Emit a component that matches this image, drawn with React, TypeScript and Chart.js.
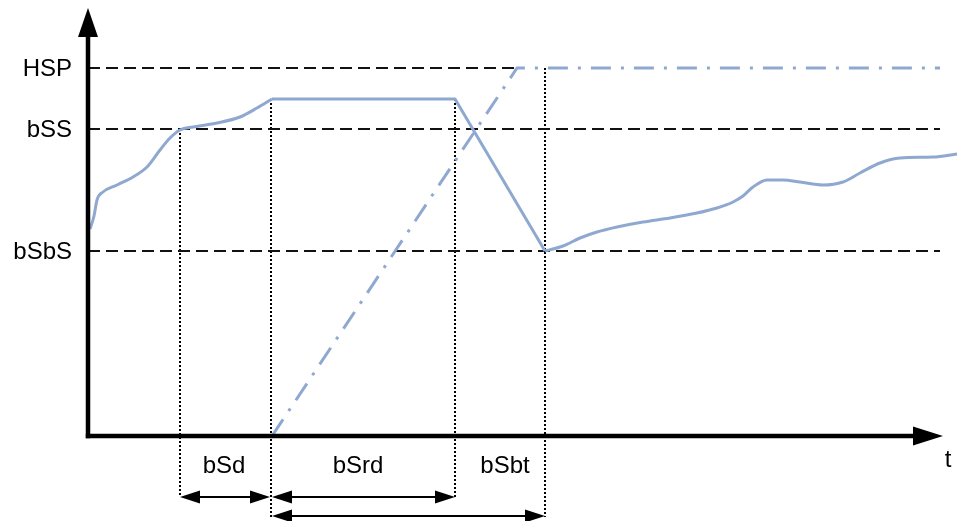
import React, { useEffect, useRef } from 'react';
import Chart from 'chart.js/auto';

// Threshold levels (y-axis labels)
const levelNames = ['HSP', 'bSS', 'bSbS'];
const levelValues = [368, 307, 185];
const levelEnds = [429, 852, 852];

// Main signal: rising part (smooth)
const riseT = [2, 6, 9, 15, 29, 45, 59, 72, 82, 92, 105, 129, 152, 169, 184];
const riseV = [207, 220, 236, 244, 251, 259, 269, 286, 298, 306, 309, 313, 319, 328, 337];
// Hold + ramp down (straight)
const holdT = [184, 367, 457];
const holdV = [337, 337, 185];
// Recovery (smooth)
const recT = [457, 475, 492, 509, 529, 555, 582, 609, 629, 645, 655, 665, 679, 695, 712, 735, 755, 772, 792, 812, 845, 869];
const recV = [185, 190, 198, 204, 209, 214, 218, 223, 228, 234, 240, 249, 256, 256, 254, 251, 254, 263, 273, 278, 279, 282];
// Setpoint ramp (dash-dot)
const rampT = [184, 429, 852];
const rampV = [0, 368, 368];

// Dotted vertical markers
const markT = [92, 183, 367, 457];
const markTop = [307, 337, 337, 368];
const markBottom = [-61, -81, -61, -81];

// Duration spans
const spanNames = ['bSd', 'bSrd', 'bSbt'];
const spanLabelT = [136, 270, 417];
const spanLabelV = [-30, -30, -30];
const arrowFrom = [92, 184, 184];
const arrowTo = [182, 367, 457];
const arrowLevel = [-61, -61, -80];

// Axes
const axisTimeEnd = 855;
const axisValueEnd = 428;
const timeLabel = 't';
const timeLabelPos = [860, -24];

const BLUE = 'rgb(143,168,208)';
const FONT = '24px "Liberation Sans", Arial, sans-serif';

const pts = (t: number[], v: number[]) => t.map((x, i) => ({ x, y: v[i] }));

const overlay = {
  id: 'overlay',
  afterDatasetsDraw(chart: any) {
    const { ctx, scales } = chart;
    const xs = scales.x, ys = scales.y;
    const px = (t: number) => xs.getPixelForValue(t);
    const py = (v: number) => ys.getPixelForValue(v);
    ctx.save();
    ctx.fillStyle = '#000';
    ctx.strokeStyle = '#000';
    // axes
    const ox = px(0), oy = py(0);
    const yTip = py(axisValueEnd), xTip = px(axisTimeEnd);
    ctx.lineWidth = 4.5;
    ctx.setLineDash([]);
    ctx.beginPath();
    ctx.moveTo(ox, oy + 2.2);
    ctx.lineTo(ox, yTip + 26);
    ctx.stroke();
    ctx.beginPath();
    ctx.moveTo(ox - 2.2, oy);
    ctx.lineTo(xTip - 26, oy);
    ctx.stroke();
    ctx.beginPath();
    ctx.moveTo(ox, yTip);
    ctx.lineTo(ox - 10, yTip + 29);
    ctx.lineTo(ox + 10, yTip + 29);
    ctx.closePath();
    ctx.fill();
    ctx.beginPath();
    ctx.moveTo(xTip, oy);
    ctx.lineTo(xTip - 30, oy - 9.5);
    ctx.lineTo(xTip - 30, oy + 9.5);
    ctx.closePath();
    ctx.fill();

    // level labels
    ctx.font = FONT;
    ctx.textAlign = 'right';
    ctx.textBaseline = 'middle';
    levelNames.forEach((n, i) => ctx.fillText(n, ox - 16, py(levelValues[i]) + 1));

    // span labels
    ctx.textAlign = 'center';
    spanNames.forEach((n, i) => ctx.fillText(n, px(spanLabelT[i]), py(spanLabelV[i])));
    ctx.fillText(timeLabel, px(timeLabelPos[0]), py(timeLabelPos[1]));

    // double arrows
    ctx.lineWidth = 2;
    arrowFrom.forEach((f, i) => {
      const a = px(f), b = px(arrowTo[i]), yy = py(arrowLevel[i]);
      const L = 20, H = 6.5;
      ctx.beginPath();
      ctx.moveTo(a + L - 1, yy);
      ctx.lineTo(b - L + 1, yy);
      ctx.stroke();
      ctx.beginPath();
      ctx.moveTo(a, yy);
      ctx.lineTo(a + L, yy - H);
      ctx.lineTo(a + L, yy + H);
      ctx.closePath();
      ctx.fill();
      ctx.beginPath();
      ctx.moveTo(b, yy);
      ctx.lineTo(b - L, yy - H);
      ctx.lineTo(b - L, yy + H);
      ctx.closePath();
      ctx.fill();
    });
    ctx.restore();
  },
};

export default function App() {
  const ref = useRef<HTMLCanvasElement | null>(null);
  useEffect(() => {
    if (!ref.current) return;
    const datasets: any[] = [
      { data: pts(riseT, riseV), borderColor: BLUE, borderWidth: 3, cubicInterpolationMode: 'monotone', pointRadius: 0 },
      { data: pts(holdT, holdV), borderColor: BLUE, borderWidth: 3, tension: 0, pointRadius: 0 },
      { data: pts(recT, recV), borderColor: BLUE, borderWidth: 3, cubicInterpolationMode: 'monotone', pointRadius: 0 },
      { data: pts(rampT, rampV), borderColor: BLUE, borderWidth: 3, tension: 0, pointRadius: 0, borderDash: [20, 10, 3, 10] },
    ];
    levelValues.forEach((v, i) => {
      datasets.push({
        data: [{ x: 0, y: v }, { x: levelEnds[i], y: v }],
        borderColor: '#111', borderWidth: 2, borderDash: [12, 6], pointRadius: 0, tension: 0,
      });
    });
    markT.forEach((t, i) => {
      datasets.push({
        data: [{ x: t, y: markTop[i] }, { x: t, y: markBottom[i] }],
        borderColor: '#000', borderWidth: 2, borderDash: [2, 2], pointRadius: 0, tension: 0,
      });
    });
    const chart = new Chart(ref.current, {
      type: 'line',
      data: { datasets },
      options: {
        animation: false,
        responsive: false,
        maintainAspectRatio: false,
        devicePixelRatio: 1,
        layout: { padding: 0 },
        plugins: { legend: { display: false }, tooltip: { enabled: false } },
        scales: {
          x: { type: 'linear', min: -88, max: 872, display: false },
          y: { type: 'linear', min: -85, max: 436, display: false },
        },
        elements: { line: { borderCapStyle: 'butt', borderJoinStyle: 'round' } },
      },
      plugins: [overlay],
    } as any);
    return () => chart.destroy();
  }, []);
  return (
    <div style={{ position: 'fixed', left: 0, top: 0, width: 960, height: 521, background: '#fff' }}>
      <canvas ref={ref} width={960} height={521} style={{ width: 960, height: 521 }} />
    </div>
  );
}
